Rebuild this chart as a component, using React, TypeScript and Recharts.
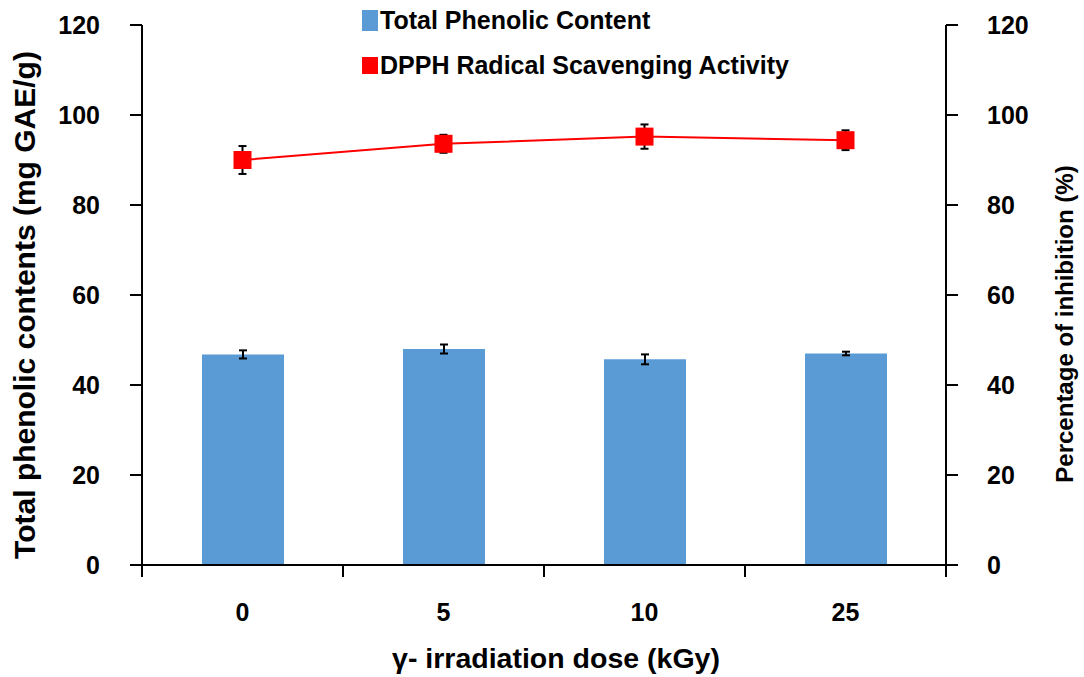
import { ComposedChart, Bar, Line, XAxis, YAxis, ErrorBar } from 'recharts';

const categories = ['0', '5', '10', '25'];
const phenolic = [46.8, 48.0, 45.7, 47.0];
const phenolicErr = [0.9, 1.0, 1.1, 0.4];
const dpph = [90.0, 93.6, 95.2, 94.4];
const dpphErr = [3.1, 2.0, 2.7, 2.2];
const yTicks = [0, 20, 40, 60, 80, 100, 120];

const W = 1084;
const H = 677;
const LEFT = 142;
const RIGHT = 946;
const TOP = 25;
const BOTTOM = 565;
const BAND = (RIGHT - LEFT) / categories.length;
const FONT = '"Liberation Sans", Arial, sans-serif';

const data = categories.map((dose, i) => ({
  dose,
  phenolic: phenolic[i],
  phenolicErr: phenolicErr[i],
  dpph: dpph[i],
  dpphErr: dpphErr[i],
}));

const tickStyle = { fill: '#000', fontSize: 25, fontWeight: 700, fontFamily: FONT };

function DoseTick(props: any) {
  const { x, index, payload } = props;
  const left = x - BAND / 2;
  return (
    <g>
      <line x1={left} x2={left} y1={BOTTOM} y2={BOTTOM + 12} stroke="#000" strokeWidth={2} />
      {index === categories.length - 1 && (
        <line x1={x + BAND / 2} x2={x + BAND / 2} y1={BOTTOM} y2={BOTTOM + 12} stroke="#000" strokeWidth={2} />
      )}
      <text x={x} y={BOTTOM + 47} textAnchor="middle" dominantBaseline="central" {...tickStyle}>
        {payload.value}
      </text>
    </g>
  );
}

function SquareDot(props: any) {
  const { cx, cy } = props;
  if (cx == null || cy == null) return null;
  return <rect x={cx - 9} y={cy - 9} width={18} height={18} fill="#ff0000" />;
}

export default function App() {
  return (
    <div style={{ position: 'absolute', left: 0, top: 0, width: W, height: H, background: '#fff' }}>
      <ComposedChart
        width={W}
        height={H}
        data={data}
        margin={{ top: TOP, right: 0, bottom: 0, left: 0 }}
      >
        <XAxis
          dataKey="dose"
          height={H - BOTTOM}
          axisLine={{ stroke: '#000', strokeWidth: 2 }}
          tickLine={false}
          tick={<DoseTick />}
          interval={0}
          label={{
            content: () => (
              <text x={556} y={658} textAnchor="middle" dominantBaseline="central" {...tickStyle} fontSize={28.5}>
                γ- irradiation dose (kGy)
              </text>
            ),
          }}
        />
        <YAxis
          yAxisId="left"
          width={LEFT}
          domain={[0, 120]}
          ticks={yTicks}
          axisLine={{ stroke: '#000', strokeWidth: 2 }}
          tickLine={{ stroke: '#000', strokeWidth: 2 }}
          tickSize={12}
          tickMargin={30}
          tick={tickStyle}
          label={{
            content: () => (
              <text
                transform="translate(24, 305) rotate(-90)"
                textAnchor="middle"
                dominantBaseline="central"
                {...tickStyle}
                fontSize={30}
              >
                Total phenolic contents (mg GAE/g)
              </text>
            ),
          }}
        />
        <YAxis
          yAxisId="right"
          orientation="right"
          width={W - RIGHT}
          domain={[0, 120]}
          ticks={yTicks}
          axisLine={{ stroke: '#000', strokeWidth: 2 }}
          tickLine={{ stroke: '#000', strokeWidth: 2 }}
          tickSize={12}
          tickMargin={29}
          tick={tickStyle}
          label={{
            content: () => (
              <text
                transform="translate(1064, 324) rotate(-90)"
                textAnchor="middle"
                dominantBaseline="central"
                {...tickStyle}
                fontSize={24}
              >
                Percentage of inhibition (%)
              </text>
            ),
          }}
        />
        <Bar yAxisId="left" dataKey="phenolic" fill="#5b9bd5" barSize={82} isAnimationActive={false}>
          <ErrorBar dataKey="phenolicErr" width={4} stroke="#000" strokeWidth={2} />
        </Bar>
        <Line
          yAxisId="right"
          dataKey="dpph"
          stroke="#ff0000"
          strokeWidth={2}
          dot={<SquareDot />}
          activeDot={false}
          isAnimationActive={false}
        >
          <ErrorBar dataKey="dpphErr" width={4} stroke="#000" strokeWidth={2} />
        </Line>
      </ComposedChart>
      <div
        style={{
          position: 'absolute',
          left: 362,
          top: 6,
          fontFamily: FONT,
          fontWeight: 700,
          fontSize: 25,
          color: '#000',
          lineHeight: '28px',
        }}
      >
        <div style={{ display: 'flex', alignItems: 'center', height: 28 }}>
          <span style={{ display: 'inline-block', width: 16, height: 21, background: '#5b9bd5', marginRight: 2 }} />
          Total Phenolic Content
        </div>
        <div style={{ display: 'flex', alignItems: 'center', height: 28, marginTop: 17 }}>
          <span style={{ display: 'inline-block', width: 16, height: 17, background: '#ff0000', marginRight: 2 }} />
          DPPH Radical Scavenging Activity
        </div>
      </div>
    </div>
  );
}
